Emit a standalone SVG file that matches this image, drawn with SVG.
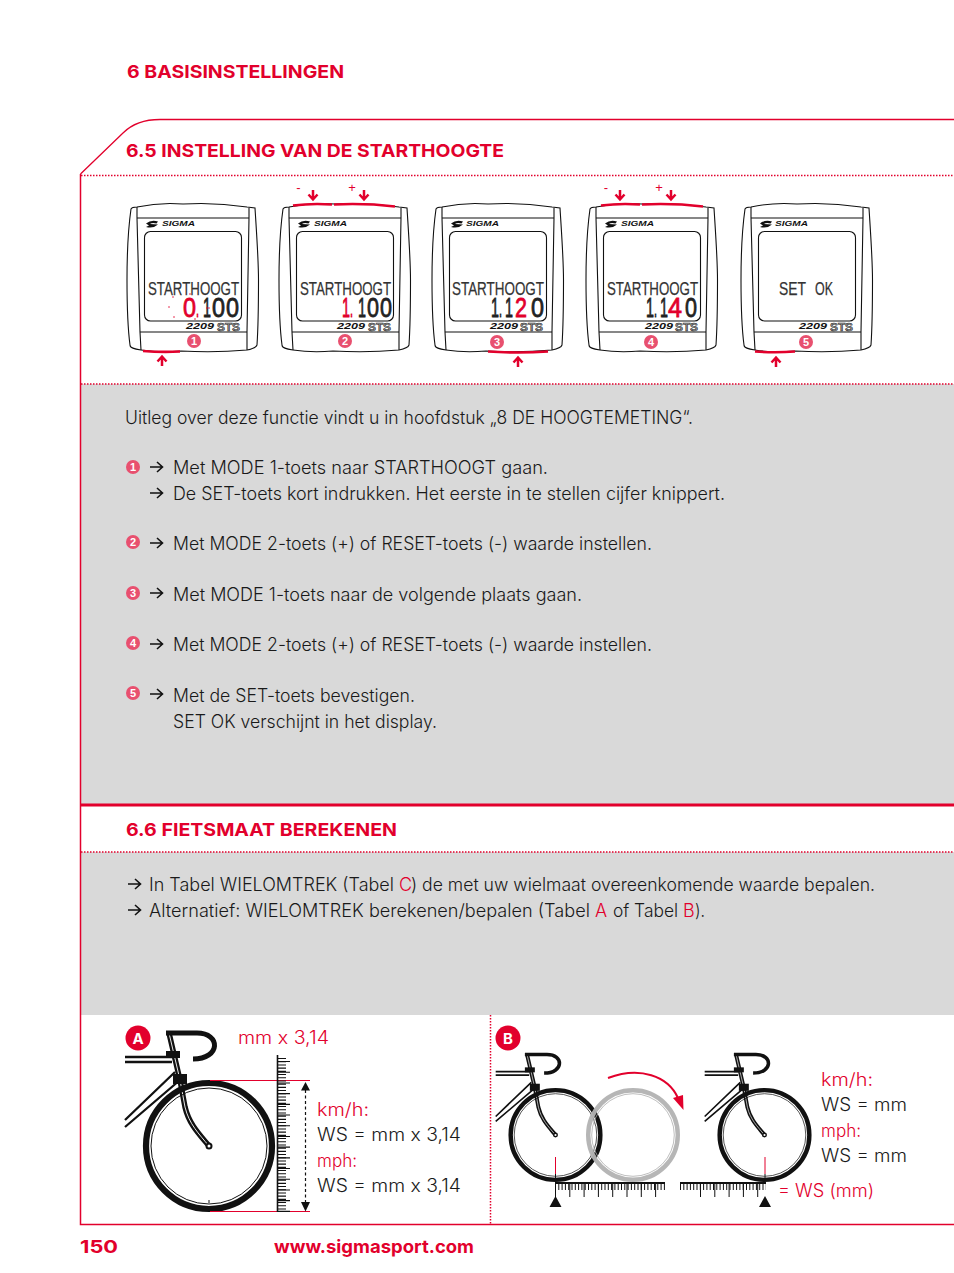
<svg xmlns="http://www.w3.org/2000/svg" width="954" height="1273" viewBox="0 0 954 1273">
<style>
text{font-family:"Inter","Liberation Sans",sans-serif}
.h{font-size:18px;font-weight:700;fill:#e2002c}
.b{font-size:18px;font-weight:300;fill:#1a1a1a;transform:translateY(1px)}
.r{fill:#e2002c}
.rl{font-size:18px;font-weight:300;fill:#e2002c;transform:translateY(1px)}
.lcd{font-family:"Liberation Sans",sans-serif;font-size:19px;fill:#333;stroke:#333;stroke-width:.25}
.dg{font-family:"Liberation Sans",sans-serif;font-size:28px;fill:#222;stroke:#222;stroke-width:.8}
.dr{fill:#e2002c;stroke:#e2002c;stroke-width:.8}
.sg{font-family:"Liberation Sans",sans-serif;font-size:7px;font-weight:700;font-style:italic;fill:#111}
.mo{font-family:"Liberation Sans",sans-serif;font-size:8.5px;font-weight:700;font-style:italic;fill:#111}
.st{font-family:"Liberation Sans",sans-serif;font-size:10px;font-weight:700;fill:#999;stroke:#222;stroke-width:.5}
.n{font-family:"Liberation Sans",sans-serif;font-size:11px;font-weight:700;fill:#fff;text-anchor:middle}
.pm{font-family:"Liberation Sans",sans-serif;font-size:13px;fill:#e2002c;text-anchor:middle}
.dot{stroke:#e2002c;stroke-width:1.5;stroke-dasharray:1.5 1.5;fill:none}
.cb{fill:#e8506f}
.f{fill:none;stroke:#111;stroke-width:1.1}
.arw{fill:none;stroke:#111;stroke-width:1.6}
.rar{fill:none;stroke:#e2002c;stroke-width:2.5}
.btn{fill:none;stroke:#e2002c;stroke-width:2.600}
</style>
<defs>
<g id="frame">
<path class="f" d="M137,207Q160,202 183,204Q215,202 247,207L255,208C257,240 258.500,260 258.500,280C258.500,310 258,330 257,345C256,348 252,349 247,350Q215,353 181,351Q160,353 141,350C134,349 130,348 130,345C128,330 127,310 127,280C127,260 128,230 131,209C132,207 134,207 137,207Z"/>
<path class="f" d="M137,207V218L140,332L141,350M249,208V218L247,332V350M137,218H249M140,332H247"/>
<rect class="f" x="144.500" y="231.500" width="97" height="89.500" rx="6"/>
<path d="M146,223.500Q151,219.500 158,221.500L156.500,223.500Q152,222.500 150,224L158,224.500Q153,229 146,227L149,225.500Z" fill="#111"/>
</g>
<path id="ar" class="arw" d="M0,0H12M7,-5L12.500,0L7,5"/>
<g id="dn"><path class="rar" d="M0,-5V4M-4.500,-.5L0,4.500L4.500,-.5"/></g>
<g id="up"><path class="rar" d="M0,5V-4M-4.500,.5L0,-4.500L4.500,.5"/></g>
<g id="bike">
<path d="M-84,-89H-37M-84,-84H-37" stroke="#111" stroke-width="2.300" fill="none"/>
<path d="M-34,-74L-84,-26M-29,-66L-84,-19" stroke="#111" stroke-width="2.300" fill="none"/>
<path d="M-40,-113L-29,-66L-24,-39C-20,-22 -10,-12 0,0" stroke="#111" stroke-width="5.500" fill="none"/>
<path d="M-40,-113L-29,-66L-24,-39C-20,-22 -10,-12 0,0" stroke="#fff" stroke-width=".9" fill="none"/>
<path d="M-43,-113H-12C12,-113 12,-87 -16,-87" stroke="#111" stroke-width="5" fill="none"/>
<rect x="-43" y="-95" width="14" height="7" fill="#111"/>
<rect x="-36" y="-72" width="14" height="10" fill="#111"/>
<circle r="63" fill="none" stroke="#111" stroke-width="6.200"/>
<circle r="58" fill="none" stroke="#111" stroke-width="1"/>
<circle r="2.500" fill="#fff" stroke="#111" stroke-width="2"/>
</g>
</defs>

<rect width="954" height="1273" fill="#fff"/>
<rect x="81" y="384" width="873" height="420" fill="#d9d9d9"/>
<rect x="81" y="852" width="873" height="163" fill="#d9d9d9"/>

<g id="frame-lines" fill="none" stroke="#e2002c">
<path stroke-width="1.300" d="M80.500,174L123,133C133,123 146,119.500 160,119.500H954"/>
<path stroke-width="1.500" d="M80.500,174V1224.500H954"/>
<path stroke-width="2.800" d="M81,805H954"/>
</g>
<path class="dot" d="M81,175.500H954M81,384H954M81,852H954M490.500,1015V1224"/>

<text class="h" x="127" y="78" textLength="217" lengthAdjust="spacingAndGlyphs">6 BASISINSTELLINGEN</text>
<text class="h" x="126" y="157" textLength="378" lengthAdjust="spacingAndGlyphs">6.5 INSTELLING VAN DE STARTHOOGTE</text>

<g id="device-1">
<use href="#frame"/>
<path class="btn" d="M143,351Q162,352.500 180,351.500"/>
<text class="sg" x="162" y="226" textLength="33" lengthAdjust="spacingAndGlyphs">SIGMA</text>
<text class="lcd" x="148" y="295" textLength="91" lengthAdjust="spacingAndGlyphs">STARTHOOGT</text>
<text class="dg" y="317"><tspan class="dr" x="183" textLength="13" lengthAdjust="spacingAndGlyphs">0</tspan><tspan class="dr" x="196" textLength="3" lengthAdjust="spacingAndGlyphs">.</tspan><tspan x="203" textLength="8" lengthAdjust="spacingAndGlyphs">1</tspan><tspan x="212" textLength="13" lengthAdjust="spacingAndGlyphs">0</tspan><tspan x="226" textLength="13" lengthAdjust="spacingAndGlyphs">0</tspan></text>
<path d="M172,297h2M168,307h2M173,317h2M190,293v2M195,318v2M206,308h4" stroke="#e2002c" stroke-width=".8"/>
<text class="mo" x="186" y="329" textLength="28" lengthAdjust="spacingAndGlyphs">2209</text>
<text class="st" x="217" y="331" textLength="23" lengthAdjust="spacingAndGlyphs">STS</text>
<circle class="cb" cx="194" cy="341" r="7"/><text class="n" x="194" y="345">1</text>
<use href="#up" x="162" y="361"/>
</g>

<g id="device-2">
<use href="#frame" x="152"/>
<path class="btn" d="M293,205.500Q312,203 332,204.500M334,204.500Q365,203 395,206.500"/>
<text class="sg" x="314" y="226" textLength="33" lengthAdjust="spacingAndGlyphs">SIGMA</text>
<text class="lcd" x="300" y="295" textLength="91" lengthAdjust="spacingAndGlyphs">STARTHOOGT</text>
<text class="dg" y="317"><tspan class="dr" x="342" textLength="8" lengthAdjust="spacingAndGlyphs">1</tspan><tspan class="dr" x="350" textLength="3" lengthAdjust="spacingAndGlyphs">.</tspan><tspan x="358" textLength="8" lengthAdjust="spacingAndGlyphs">1</tspan><tspan x="367" textLength="12" lengthAdjust="spacingAndGlyphs">0</tspan><tspan x="380" textLength="12" lengthAdjust="spacingAndGlyphs">0</tspan></text>
<text class="mo" x="337" y="329" textLength="28" lengthAdjust="spacingAndGlyphs">2209</text>
<text class="st" x="368" y="331" textLength="23" lengthAdjust="spacingAndGlyphs">STS</text>
<circle class="cb" cx="345" cy="341" r="7"/><text class="n" x="345" y="345">2</text>
<text class="pm" x="298.500" y="192">-</text><text class="pm" x="352" y="192">+</text>
<use href="#dn" x="313" y="195"/><use href="#dn" x="364" y="195"/>
</g>

<g id="device-3">
<use href="#frame" x="305"/>
<path class="btn" d="M488,351.500Q518,353.500 548,351.500"/>
<text class="sg" x="466" y="226" textLength="33" lengthAdjust="spacingAndGlyphs">SIGMA</text>
<text class="lcd" x="452" y="295" textLength="92" lengthAdjust="spacingAndGlyphs">STARTHOOGT</text>
<text class="dg" y="317"><tspan x="491" textLength="8" lengthAdjust="spacingAndGlyphs">1</tspan><tspan x="499" textLength="3" lengthAdjust="spacingAndGlyphs">.</tspan><tspan x="505" textLength="8" lengthAdjust="spacingAndGlyphs">1</tspan><tspan class="dr" x="515" textLength="12" lengthAdjust="spacingAndGlyphs">2</tspan><tspan x="531" textLength="13" lengthAdjust="spacingAndGlyphs">0</tspan></text>
<text class="mo" x="490" y="329" textLength="28" lengthAdjust="spacingAndGlyphs">2209</text>
<text class="st" x="520" y="331" textLength="23" lengthAdjust="spacingAndGlyphs">STS</text>
<circle class="cb" cx="497" cy="342" r="7"/><text class="n" x="497" y="346">3</text>
<use href="#up" x="518" y="362"/>
</g>

<g id="device-4">
<use href="#frame" x="459"/>
<path class="btn" d="M601,205.500Q620,203 640,204.500M642,204.500Q673,203 703,206.500"/>
<text class="sg" x="621" y="226" textLength="33" lengthAdjust="spacingAndGlyphs">SIGMA</text>
<text class="lcd" x="607" y="295" textLength="91" lengthAdjust="spacingAndGlyphs">STARTHOOGT</text>
<text class="dg" y="317"><tspan x="646" textLength="8" lengthAdjust="spacingAndGlyphs">1</tspan><tspan x="654" textLength="3" lengthAdjust="spacingAndGlyphs">.</tspan><tspan x="660" textLength="8" lengthAdjust="spacingAndGlyphs">1</tspan><tspan class="dr" x="668" textLength="14" lengthAdjust="spacingAndGlyphs">4</tspan><tspan x="685" textLength="12" lengthAdjust="spacingAndGlyphs">0</tspan></text>
<text class="mo" x="645" y="329" textLength="28" lengthAdjust="spacingAndGlyphs">2209</text>
<text class="st" x="675" y="331" textLength="23" lengthAdjust="spacingAndGlyphs">STS</text>
<circle class="cb" cx="651" cy="342" r="7"/><text class="n" x="651" y="346">4</text>
<text class="pm" x="606" y="192">-</text><text class="pm" x="659" y="192">+</text>
<use href="#dn" x="620" y="195"/><use href="#dn" x="671" y="195"/>
</g>

<g id="device-5">
<use href="#frame" x="614"/>
<path class="btn" d="M755,351.500Q775,353 795,351.500"/>
<text class="sg" x="775" y="226" textLength="33" lengthAdjust="spacingAndGlyphs">SIGMA</text>
<text class="lcd" x="779" y="295" textLength="27" lengthAdjust="spacingAndGlyphs">SET</text>
<text class="lcd" x="815" y="295" textLength="18" lengthAdjust="spacingAndGlyphs">OK</text>
<text class="mo" x="799" y="329" textLength="28" lengthAdjust="spacingAndGlyphs">2209</text>
<text class="st" x="830" y="331" textLength="23" lengthAdjust="spacingAndGlyphs">STS</text>
<circle class="cb" cx="806" cy="342" r="7"/><text class="n" x="806" y="346">5</text>
<use href="#up" x="776" y="362"/>
</g>

<g id="instructions">
<text class="b" x="125" y="423" textLength="568" lengthAdjust="spacingAndGlyphs">Uitleg over deze functie vindt u in hoofdstuk „8 DE HOOGTEMETING“.</text>
<circle class="cb" cx="133" cy="467" r="7"/><text class="n" x="133" y="471">1</text>
<use href="#ar" x="150" y="467"/>
<text class="b" x="173" y="473" textLength="375" lengthAdjust="spacingAndGlyphs">Met MODE 1-toets naar STARTHOOGT gaan.</text>
<use href="#ar" x="150" y="493"/>
<text class="b" x="173" y="499" textLength="552" lengthAdjust="spacingAndGlyphs">De SET-toets kort indrukken. Het eerste in te stellen cijfer knippert.</text>
<circle class="cb" cx="133" cy="542" r="7"/><text class="n" x="133" y="546">2</text>
<use href="#ar" x="150" y="543"/>
<text class="b" x="173" y="549" textLength="479" lengthAdjust="spacingAndGlyphs">Met MODE 2-toets (+) of RESET-toets (-) waarde instellen.</text>
<circle class="cb" cx="133" cy="593" r="7"/><text class="n" x="133" y="597">3</text>
<use href="#ar" x="150" y="593"/>
<text class="b" x="173" y="600" textLength="409" lengthAdjust="spacingAndGlyphs">Met MODE 1-toets naar de volgende plaats gaan.</text>
<circle class="cb" cx="133" cy="643" r="7"/><text class="n" x="133" y="647">4</text>
<use href="#ar" x="150" y="644"/>
<text class="b" x="173" y="650" textLength="479" lengthAdjust="spacingAndGlyphs">Met MODE 2-toets (+) of RESET-toets (-) waarde instellen.</text>
<circle class="cb" cx="133" cy="693" r="7"/><text class="n" x="133" y="697">5</text>
<use href="#ar" x="150" y="694"/>
<text class="b" x="173" y="701" textLength="242" lengthAdjust="spacingAndGlyphs">Met de SET-toets bevestigen.</text>
<text class="b" x="173" y="727" textLength="264" lengthAdjust="spacingAndGlyphs">SET OK verschijnt in het display.</text>
</g>

<g id="section-66">
<text class="h" x="126" y="836" textLength="271" lengthAdjust="spacingAndGlyphs">6.6 FIETSMAAT BEREKENEN</text>
<use href="#ar" x="128" y="884"/>
<text class="b" y="890"><tspan x="149" textLength="250" lengthAdjust="spacingAndGlyphs">In Tabel WIELOMTREK (Tabel </tspan><tspan x="399" class="r">C</tspan><tspan x="411" textLength="464" lengthAdjust="spacingAndGlyphs">) de met uw wielmaat overeenkomende waarde bepalen.</tspan></text>
<use href="#ar" x="128" y="910"/>
<text class="b" y="916"><tspan x="149" textLength="446" lengthAdjust="spacingAndGlyphs">Alternatief: WIELOMTREK berekenen/bepalen (Tabel </tspan><tspan x="595" class="r">A</tspan><tspan x="608" textLength="75" lengthAdjust="spacingAndGlyphs"> of Tabel </tspan><tspan x="683" class="r">B</tspan><tspan x="695" textLength="10" lengthAdjust="spacingAndGlyphs">).</tspan></text>
</g>

<g id="panel-a">
<circle cx="138" cy="1038" r="12.500" fill="#e2002c"/>
<text x="138" y="1043.500" font-size="15" font-weight="700" fill="#fff" text-anchor="middle">A</text>
<use href="#bike" x="209" y="1146"/>
<path d="M209,1200V1203" stroke="#111" stroke-width="1"/>
<path d="M210,1080.500H310M210,1211.500H310" stroke="#e2002c" stroke-width="1.100"/>
<path d="M277.500,1055V1212" stroke="#111" stroke-width="1.600"/>
<path d="M282,1058V1212" stroke="#111" stroke-width="8" stroke-dasharray="1.100 2.100"/>
<path d="M284,1061V1212" stroke="#111" stroke-width="12" stroke-dasharray="1.100 9.600"/>
<path d="M305.500,1090V1202" stroke="#111" stroke-width="1.200" stroke-dasharray="3 2.500"/>
<path d="M305.500,1082L310,1090.500H301ZM305.500,1211.500L310,1202H301Z" fill="#111"/>
<text class="rl" x="238" y="1043" textLength="91" lengthAdjust="spacingAndGlyphs">mm x 3,14</text>
<text class="rl" x="317" y="1115" textLength="52" lengthAdjust="spacingAndGlyphs">km/h:</text>
<text class="b" x="317" y="1140" textLength="144" lengthAdjust="spacingAndGlyphs">WS = mm x 3,14</text>
<text class="rl" x="317" y="1166" textLength="40" lengthAdjust="spacingAndGlyphs">mph:</text>
<text class="b" x="317" y="1191" textLength="144" lengthAdjust="spacingAndGlyphs">WS = mm x 3,14</text>
</g>

<g id="panel-b">
<circle cx="508" cy="1038" r="12.500" fill="#e2002c"/>
<text x="508" y="1043.500" font-size="15" font-weight="700" fill="#fff" text-anchor="middle">B</text>
<use href="#bike" transform="translate(555.500 1135) scale(.712)"/>
<g opacity=".95" fill="none" stroke="#b3b3b3">
<circle cx="633" cy="1135" r="44.800" stroke-width="4.400"/>
<circle cx="633" cy="1135" r="41.300" stroke-width=".9"/>
</g>
<use href="#bike" transform="translate(764.500 1135) scale(.712)"/>
<path d="M608,1078C640,1066 668,1076 678,1098" fill="none" stroke="#e2002c" stroke-width="2"/>
<path d="M683.500,1110L673,1098L683,1095Z" fill="#e2002c"/>
<path d="M555.500,1157V1174M765,1157V1174" stroke="#e2002c" stroke-width="1"/>
<path d="M555.500,1174V1182M765,1174V1182" stroke="#111" stroke-width="1"/>
<path d="M555,1183H665M680,1183H766" stroke="#111" stroke-width="2"/>
<path d="M555,1187H665M680,1187H766" stroke="#111" stroke-width="6" stroke-dasharray="1 2.300"/>
<path d="M555,1190.500H658" stroke="#111" stroke-width="13" stroke-dasharray="1 13.300"/>
<path d="M700,1190.500H766" stroke="#111" stroke-width="13" stroke-dasharray="1 13.300"/>
<path d="M555.500,1196L561.500,1207H549.500ZM765,1196L771,1207H759Z" fill="#111"/>
<text class="rl" x="821" y="1085" textLength="52" lengthAdjust="spacingAndGlyphs">km/h:</text>
<text class="b" x="821" y="1110" textLength="86" lengthAdjust="spacingAndGlyphs">WS = mm</text>
<text class="rl" x="821" y="1136" textLength="40" lengthAdjust="spacingAndGlyphs">mph:</text>
<text class="b" x="821" y="1161" textLength="86" lengthAdjust="spacingAndGlyphs">WS = mm</text>
<text class="rl" x="778" y="1196" textLength="96" lengthAdjust="spacingAndGlyphs">= WS (mm)</text>
</g>

<g id="footer">
<text class="h" x="80" y="1253" textLength="38" lengthAdjust="spacingAndGlyphs">150</text>
<text class="h" x="274" y="1253" textLength="200" lengthAdjust="spacingAndGlyphs">www.sigmasport.com</text>
</g>
</svg>
